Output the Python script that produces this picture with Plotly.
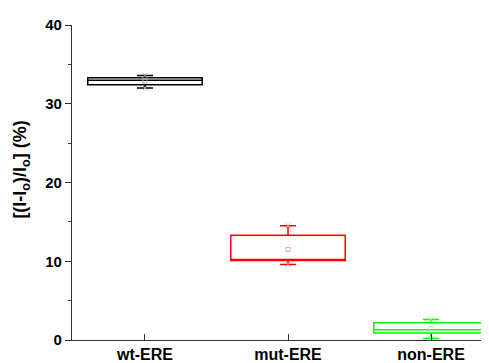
import plotly.graph_objects as go

categories = ["wt-ERE", "mut-ERE", "non-ERE"]
positions = [1, 2, 3]
q1 = [32.4, 10.1, 0.9]
median = [33.0, 10.1, 1.3]
q3 = [33.3, 13.3, 2.2]
lower = [32.0, 9.6, 0.2]
upper = [33.6, 14.5, 2.6]
mean = [32.9, 11.5, 1.45]
colors = ["#000000", "#ff0000", "#00ff00"]
mean_colors = ["#b0b0b0", "#ff9a9a", "#9aff9a"]

FONT = "Liberation Sans, Arial, sans-serif"

# page body has an 8px margin; compensate in the figure margins
L, R, T, B = 64, 8, 15, 30
W, H = 489, 363
pw, ph = W - L - R, H - T - B

fig = go.Figure()
for i in range(3):
    fig.add_trace(go.Box(
        x=[positions[i]], q1=[q1[i]], median=[median[i]], q3=[q3[i]],
        lowerfence=[lower[i]], upperfence=[upper[i]],
        width=0.8, whiskerwidth=0.14, boxpoints=False,
        line=dict(color=colors[i], width=1.5),
        fillcolor="rgba(0,0,0,0)", showlegend=False, hoverinfo="skip"))
    fig.add_trace(go.Scatter(
        x=[positions[i]], y=[mean[i]], mode="markers",
        marker=dict(symbol="square-open", size=4, color=mean_colors[i], line=dict(width=1)),
        showlegend=False))
    fig.add_trace(go.Scatter(
        x=[positions[i], positions[i]], y=[lower[i], upper[i]], mode="markers",
        marker=dict(symbol="x-thin-open", size=5, color=mean_colors[i], line=dict(width=1, color=mean_colors[i])),
        showlegend=False))

fig.update_layout(
    width=W, height=H,
    margin=dict(l=L, r=R, t=T, b=B),
    paper_bgcolor="white", plot_bgcolor="white",
    font=dict(family=FONT, color="#000000"),
    xaxis=dict(range=[0.49, 3.405], showline=True, linecolor="#333333", linewidth=1.2,
               ticks="inside", ticklen=6, tickcolor="#333333", tickwidth=1.2,
               tickvals=positions, ticktext=categories, showgrid=False, zeroline=False,
               tickfont=dict(family=FONT, size=16, weight="bold")),
    yaxis=dict(range=[0, 40], showline=True, linecolor="#333333", linewidth=1.2,
               ticks="outside", ticklen=6, tickcolor="#333333", tickwidth=1.2,
               dtick=10, showgrid=False, zeroline=False,
               minor=dict(ticks="outside", ticklen=3, dtick=5, tickcolor="#333333", tickwidth=1.2),
               tickfont=dict(family=FONT, size=15, weight="bold")),
    annotations=[dict(
        text="[(I-I<sub>o</sub>)/I<sub>o</sub>] (%)", textangle=-90,
        xref="paper", yref="paper", x=(14 - L) / pw, y=(H - B - 161) / ph,
        xanchor="center", yanchor="middle", showarrow=False,
        font=dict(family=FONT, size=18, weight="bold", color="#000000"))],
)

fig.write_html("out.html")
